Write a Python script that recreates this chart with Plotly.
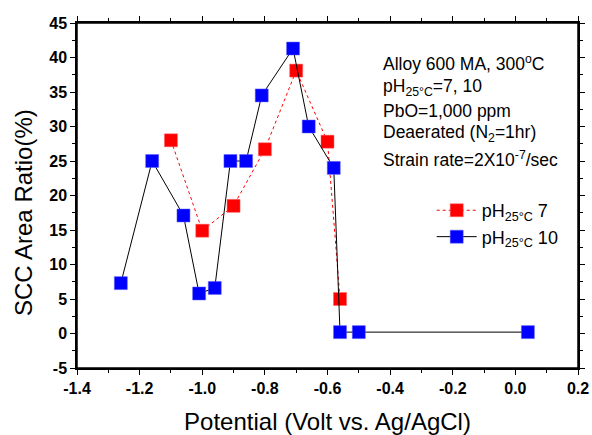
import plotly.graph_objects as go

# pH 7 series (red)
ph7_x = [-1.10, -1.00, -0.90, -0.80, -0.70, -0.60, -0.56]
ph7_y = [28.0, 14.9, 18.5, 26.7, 38.1, 27.8, 5.0]

# pH 10 series (blue)
ph10_x = [-1.26, -1.16, -1.06, -1.01, -0.96, -0.91, -0.86, -0.81, -0.71, -0.66, -0.58, -0.56, -0.50, 0.04]
ph10_y = [7.3, 25.0, 17.1, 5.8, 6.6, 25.0, 25.0, 34.5, 41.3, 30.0, 24.0, 0.2, 0.2, 0.2]

x_tickvals = [-1.4, -1.2, -1.0, -0.8, -0.6, -0.4, -0.2, 0.0, 0.2]
x_ticktext = ["-1.4", "-1.2", "-1.0", "-0.8", "-0.6", "-0.4", "-0.2", "0.0", "0.2"]
y_tickvals = [-5, 0, 5, 10, 15, 20, 25, 30, 35, 40, 45]
y_ticktext = ["-5", "0", "5", "10", "15", "20", "25", "30", "35", "40", "45"]

ann_lines = [
    "Alloy 600 MA, 300<sup>o</sup>C",
    "pH<sub>25°C</sub>=7, 10",
    "PbO=1,000 ppm",
    "Deaerated (N<sub>2</sub>=1hr)",
    "Strain rate=2X10<sup>-7</sup>/sec",
]

FONT = "Liberation Sans, Arial, sans-serif"

W, H = 592, 435
ML, MT, MR, MB = 77, 23, 14, 67
PW, PH = W - ML - MR, H - MT - MB

fig = go.Figure()
fig.add_trace(go.Scatter(
    x=ph7_x, y=ph7_y, mode="lines+markers", name="pH<sub>25°C</sub> 7",
    line=dict(color="#ff0000", width=1, dash="dot"),
    marker=dict(symbol="square", size=13, color="#ff0000", line=dict(width=0.5, color="#ff6060")),
))
fig.add_trace(go.Scatter(
    x=ph10_x, y=ph10_y, mode="lines+markers", name="pH<sub>25°C</sub> 10",
    line=dict(color="#000000", width=1),
    marker=dict(symbol="square", size=13, color="#0000ff", line=dict(width=0.5, color="#6060ff")),
))

axis_common = dict(
    showline=True, linecolor="black", linewidth=1.5, mirror="allticks",
    ticks="outside", ticklen=5, tickwidth=1, tickcolor="black",
    showgrid=False, zeroline=False, automargin=False,
    tickfont=dict(family=FONT, size=16, color="black", weight=700),
)

fig.update_xaxes(
    range=[-1.4, 0.2], tickmode="array", tickvals=x_tickvals, ticktext=x_ticktext,
    minor=dict(tickmode="linear", tick0=-1.4, dtick=0.1, ticks="outside", ticklen=3, tickcolor="black"),
    title=dict(text="Potential (Volt vs. Ag/AgCl)", font=dict(family=FONT, size=24, color="black"), standoff=19),
    **axis_common,
)
fig.update_yaxes(
    range=[-5, 45], tickmode="array", tickvals=y_tickvals, ticktext=y_ticktext,
    minor=dict(tickmode="linear", tick0=-5, dtick=2.5, ticks="outside", ticklen=3, tickcolor="black"),
    **axis_common,
)

# plot frame (guarantees the closed box around the plotting area)
fig.add_shape(
    type="rect", xref="paper", yref="paper", x0=0, y0=0, x1=1, y1=1,
    line=dict(color="black", width=1.5), fillcolor="rgba(0,0,0,0)", layer="above",
)

# y-axis title (placed slightly below centre, as in the reference)
fig.add_annotation(
    xref="paper", yref="paper", x=(23 - ML) / PW, y=1 - (213 - MT) / PH,
    xanchor="center", yanchor="middle", showarrow=False, textangle=-90,
    text="SCC Area Ratio(%)", font=dict(family=FONT, size=24, color="black"),
)

ann_y = [63.3, 87.3, 110.5, 134.0, 158.5]
for t, yy in zip(ann_lines, ann_y):
    fig.add_annotation(
        xref="paper", yref="paper", x=0.607, y=1 - (yy - MT) / PH,
        xanchor="left", yanchor="middle", showarrow=False, text=t,
        font=dict(family=FONT, size=17.5, color="black"),
    )

fig.update_layout(
    width=W, height=H,
    margin=dict(l=ML, r=MR, t=MT, b=MB),
    paper_bgcolor="white", plot_bgcolor="white",
    showlegend=True,
    legend=dict(
        x=0.708, y=0.51, xanchor="left", yanchor="top",
        bgcolor="rgba(0,0,0,0)", font=dict(family=FONT, size=18, color="black"),
        itemwidth=40, tracegroupgap=0,
    ),
)

fig.write_html(
    "out.html",
    config={"displayModeBar": False},
    post_script="document.body.style.margin='0';document.body.style.overflow='hidden';",
)
